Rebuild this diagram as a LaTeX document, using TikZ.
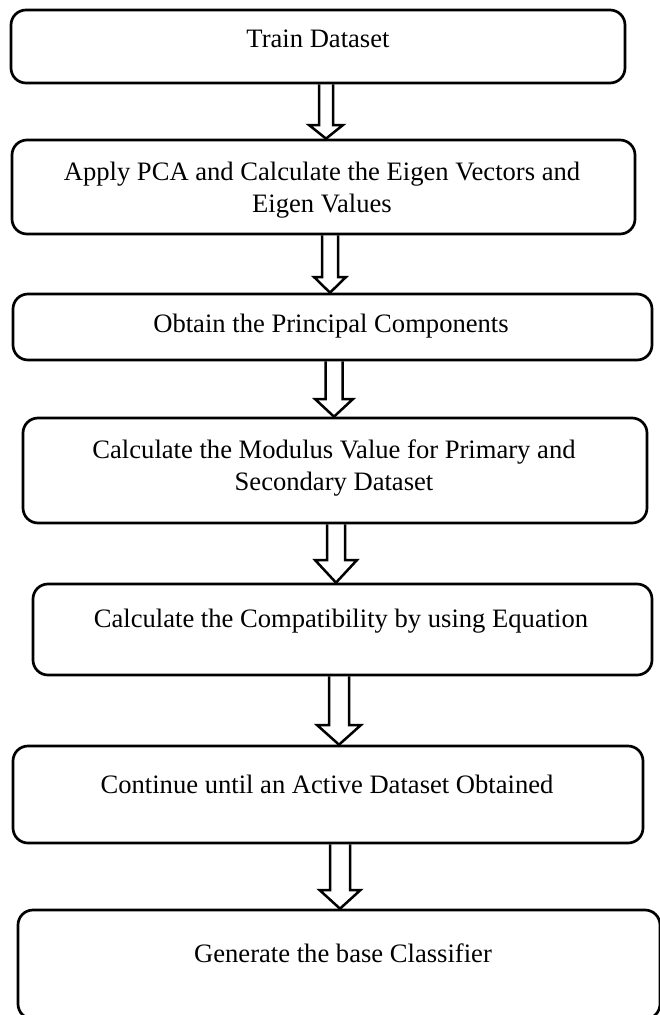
\documentclass[tikz,border=0pt]{standalone}
\usepackage{fontspec}
\setmainfont{Liberation Serif}
\usetikzlibrary{calc}
\newcommand\boxat[5]{%
  \node[box, minimum width={#4-#2}, minimum height={#5-#3}] (#1) at ({(#2+#4)/2},{(#3+#5)/2}) {};}
\newcommand\blockarrow[7]{% name, from, to, x, shaft half, head half, head y
  \coordinate (#1) at (#4,#7);
  \draw[blk] ($(#2.south -| #1)+(-#5,0)$) -- ($(#1)+(-#5,0)$) -- ($(#1)+(-#6,0)$) -- (#3.north -| #1)
     -- ($(#1)+(#6,0)$) -- ($(#1)+(#5,0)$) -- ($(#2.south -| #1)+(#5,0)$);}
\begin{document}
\begin{tikzpicture}[x=1pt,y=-1pt,
  box/.style={draw=black, line width=2.7pt, rounded corners=15pt, inner sep=0pt, rectangle},
  lbl/.style={font=\fontsize{26.6}{32}\selectfont, inner sep=0pt, anchor=base, align=center},
  blk/.style={draw=black, line width=2.5pt, line join=miter}]
\useasboundingbox (0,0) rectangle (659,1015);
\boxat{b1}{11}{10}{625}{83}
\boxat{b2}{12}{140}{635}{234}
\boxat{b3}{13}{294}{652}{360}
\boxat{b4}{23}{418}{647}{523}
\boxat{b5}{33}{584}{652}{675}
\boxat{b6}{13}{746}{643}{843}
\boxat{b7}{18}{910}{660}{1019}
\blockarrow{a1}{b1}{b2}{326}{7}{17}{125}
\blockarrow{a2}{b2}{b3}{330}{8}{16}{277}
\blockarrow{a3}{b3}{b4}{334}{8.5}{19}{399}
\blockarrow{a4}{b4}{b5}{336}{9}{21}{560}
\blockarrow{a5}{b5}{b6}{339}{10}{22}{725}
\blockarrow{a6}{b6}{b7}{340}{10}{20.5}{890}
\node[lbl] (t1) at (318,47) {Train Dataset};
\node[lbl] (t2) at (322,212) {Apply PCA and Calculate the Eigen Vectors and\\Eigen Values};
\node[lbl] (t3) at (331,332) {Obtain the Principal Components};
\node[lbl] (t4) at (334,490) {Calculate the Modulus Value for Primary and\\Secondary Dataset};
\node[lbl] (t5) at (341,627) {Calculate the Compatibility by using Equation};
\node[lbl] (t6) at (327,793) {Continue until an Active Dataset Obtained};
\node[lbl] (t7) at (343,962) {Generate the base Classifier};
\end{tikzpicture}
\end{document}
